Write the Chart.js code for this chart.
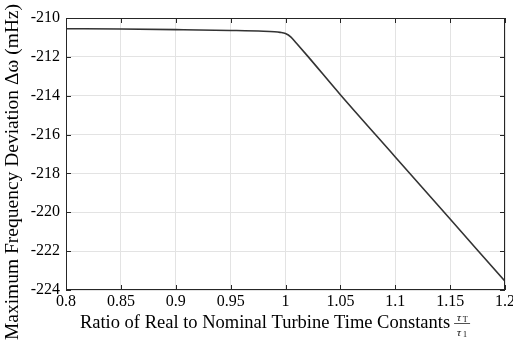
<!DOCTYPE html>
<html>
<head>
<meta charset="utf-8">
<script src="https://cdn.jsdelivr.net/npm/chart.js@4.4.1/dist/chart.umd.min.js"></script>
<style>
  html, body { margin: 0; padding: 0; background: #fff; }
  #wrap { width: 513px; height: 343px; }
</style>
</head>
<body>
<div id="wrap"><canvas id="freqChart"></canvas></div>
<script>
// turbine time constant ratio vs. peak frequency deviation
const ratios = [0.80, 0.85, 0.90, 0.95, 0.98, 0.99, 0.995, 1.00, 1.005, 1.01, 1.02, 1.05, 1.10, 1.15, 1.20];
const deviation = [-210.55, -210.57, -210.60, -210.64, -210.68, -210.71, -210.74, -210.80, -210.98, -211.30, -211.95, -213.95, -217.15, -220.35, -223.55];

const xTicks = [0.8, 0.85, 0.9, 0.95, 1, 1.05, 1.1, 1.15, 1.2];
const xTickLabels = ['0.8', '0.85', '0.9', '0.95', '1', '1.05', '1.1', '1.15', '1.2'];
const yTicks = [-210, -212, -214, -216, -218, -220, -222, -224];
const yTickLabels = ['-210', '-212', '-214', '-216', '-218', '-220', '-222', '-224'];

const xTitle = 'Ratio of Real to Nominal Turbine Time Constants';
const yTitle = 'Maximum Frequency Deviation Δω (mHz)';

const serif = '"Liberation Serif", "Times New Roman", serif';
const axisColor = '#262626';

// box around the plot, inward tick marks and both axis titles
const framePlugin = {
    id: 'frame',
    afterDraw(chart) {
        const { ctx, chartArea: a, scales } = chart;
        ctx.save();
        ctx.strokeStyle = axisColor;
        ctx.lineWidth = 1;
        ctx.strokeRect(a.left + 0.5, a.top + 0.5, a.right - a.left - 1, a.bottom - a.top - 1);

        ctx.beginPath();
        const len = 5;
        xTicks.forEach(v => {
            const px = Math.round(scales.x.getPixelForValue(v)) + 0.5;
            ctx.moveTo(px, a.bottom); ctx.lineTo(px, a.bottom - len);
            ctx.moveTo(px, a.top); ctx.lineTo(px, a.top + len);
        });
        yTicks.forEach(v => {
            const py = Math.round(scales.y.getPixelForValue(v)) + 0.5;
            ctx.moveTo(a.left, py); ctx.lineTo(a.left + len, py);
            ctx.moveTo(a.right, py); ctx.lineTo(a.right - len, py);
        });
        ctx.stroke();

        ctx.fillStyle = '#000';

        // y axis title, rotated, centred on the figure height
        ctx.save();
        ctx.translate(13, 172);
        ctx.rotate(-Math.PI / 2);
        ctx.font = '19.5px ' + serif;
        ctx.textAlign = 'center';
        ctx.textBaseline = 'middle';
        ctx.fillText(yTitle, 0, 0);
        ctx.restore();

        // x axis title followed by the fraction tau_T / tau_1
        ctx.font = '18.5px ' + serif;
        const w = ctx.measureText(xTitle).width;
        const fracW = 16;
        const total = w + 4 + fracW;
        const x0 = 275 - total / 2;
        const yBase = 328;
        ctx.textBaseline = 'alphabetic';
        ctx.textAlign = 'left';
        ctx.fillText(xTitle, x0, yBase);

        const fx = x0 + w + 4;
        ctx.textAlign = 'center';
        ctx.font = 'italic 11px ' + serif;
        ctx.fillText('τ', fx + fracW / 2 - 3, yBase - 7);
        ctx.fillText('τ', fx + fracW / 2 - 3, yBase + 8);
        ctx.font = '8px ' + serif;
        ctx.fillText('T', fx + fracW / 2 + 3, yBase - 6);
        ctx.fillText('1', fx + fracW / 2 + 3, yBase + 9);
        ctx.beginPath();
        ctx.lineWidth = 0.8;
        ctx.moveTo(fx, yBase - 4.5);
        ctx.lineTo(fx + fracW, yBase - 4.5);
        ctx.stroke();
        ctx.restore();
    }
};

new Chart(document.getElementById('freqChart'), {
    type: 'line',
    data: {
        datasets: [{
            data: ratios.map((r, i) => ({ x: r, y: deviation[i] })),
            borderColor: '#333333',
            borderWidth: 1.6,
            pointRadius: 0,
            cubicInterpolationMode: 'monotone',
            fill: false
        }]
    },
    options: {
        responsive: true,
        maintainAspectRatio: false,
        animation: false,
        layout: { padding: { top: 18, right: 8, left: 0, bottom: 0 } },
        plugins: {
            legend: { display: false },
            tooltip: { enabled: false }
        },
        scales: {
            x: {
                type: 'linear',
                min: 0.8,
                max: 1.2,
                afterBuildTicks: scale => { scale.ticks = xTicks.map(v => ({ value: v })); },
                afterFit: scale => {
                    scale.height = 53;
                    scale.paddingLeft = 0;
                    scale.paddingRight = 0;
                },
                ticks: {
                    color: '#000',
                    font: { family: serif, size: 16 },
                    padding: 2,
                    maxRotation: 0,
                    callback: (v) => xTickLabels[xTicks.indexOf(v)] ?? ''
                },
                grid: { color: '#e3e3e3', drawTicks: false },
                border: { display: false }
            },
            y: {
                min: -224,
                max: -210,
                afterBuildTicks: scale => { scale.ticks = yTicks.map(v => ({ value: v })); },
                afterFit: scale => {
                    scale.width = 66;
                    scale.paddingTop = 0;
                    scale.paddingBottom = 0;
                },
                ticks: {
                    color: '#000',
                    font: { family: serif, size: 16 },
                    padding: 6,
                    callback: (v) => yTickLabels[yTicks.indexOf(v)] ?? ''
                },
                grid: { color: '#e3e3e3', drawTicks: false },
                border: { display: false }
            }
        }
    },
    plugins: [framePlugin]
});
</script>
</body>
</html>
